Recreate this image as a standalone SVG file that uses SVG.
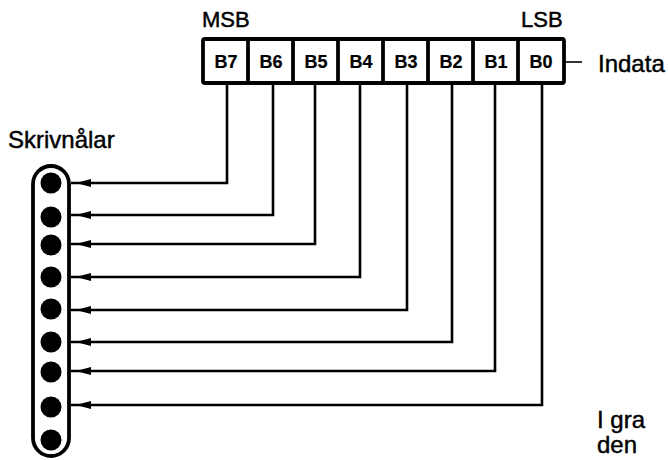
<svg xmlns="http://www.w3.org/2000/svg" width="668" height="460" viewBox="0 0 668 460">
<style>
.lbl{font-family:"Liberation Sans",Arial,sans-serif;fill:#000;stroke:#000;stroke-width:0.45}
.big{font-size:22px}
.cap{font-size:24px}
.cell{font-size:18px;font-weight:bold;text-anchor:middle;stroke-width:0.2}
.wire{fill:none;stroke:#000;stroke-width:2.6;stroke-linejoin:miter}
.frame{fill:#fff;stroke:#000;stroke-width:3.8}
.div{stroke:#000;stroke-width:3.8}
.pin{fill:#000}
</style>
<defs>
<marker id="arr" markerUnits="userSpaceOnUse" markerWidth="30" markerHeight="12" viewBox="-30 -6 30 12" refX="0" refY="0" orient="auto" overflow="visible">
<path d="M-5,0 L-20,-4 L-20,4 Z" fill="#000"/>
</marker>
</defs>
<rect width="668" height="460" fill="#fff"/>
<text class="lbl big" x="202" y="27">MSB</text>
<text class="lbl big" x="521" y="27">LSB</text>
<g id="register">
<rect class="frame" x="203" y="39" width="361" height="44" rx="2"/>
<line class="div" x1="248" y1="39" x2="248" y2="83"/>
<line class="div" x1="293" y1="39" x2="293" y2="83"/>
<line class="div" x1="338" y1="39" x2="338" y2="83"/>
<line class="div" x1="383" y1="39" x2="383" y2="83"/>
<line class="div" x1="428" y1="39" x2="428" y2="83"/>
<line class="div" x1="473" y1="39" x2="473" y2="83"/>
<line class="div" x1="518" y1="39" x2="518" y2="83"/>
<text class="lbl cell" x="226" y="68">B7</text>
<text class="lbl cell" x="271" y="68">B6</text>
<text class="lbl cell" x="316" y="68">B5</text>
<text class="lbl cell" x="361" y="68">B4</text>
<text class="lbl cell" x="406" y="68">B3</text>
<text class="lbl cell" x="451" y="68">B2</text>
<text class="lbl cell" x="496" y="68">B1</text>
<text class="lbl cell" x="541" y="68">B0</text>
</g>
<g id="indata">
<line x1="565" y1="62" x2="582" y2="62" stroke="#000" stroke-width="1.6"/>
<text class="lbl cap" x="598" y="72">Indata</text>
</g>
<g id="pins">
<text class="lbl" x="8" y="148" font-size="24">Skrivnålar</text>
<rect class="frame" x="33" y="166" width="36" height="290" rx="18"/>
<circle class="pin" cx="51" cy="183" r="10.5"/>
<circle class="pin" cx="51" cy="217" r="10.5"/>
<circle class="pin" cx="51" cy="245" r="10.5"/>
<circle class="pin" cx="51" cy="277" r="10.5"/>
<circle class="pin" cx="51" cy="309" r="10.5"/>
<circle class="pin" cx="51" cy="342" r="10.5"/>
<circle class="pin" cx="51" cy="372" r="10.5"/>
<circle class="pin" cx="51" cy="407" r="10.5"/>
<circle class="pin" cx="51" cy="440" r="10.5"/>
</g>
<g id="connectors">
<path class="wire" marker-end="url(#arr)" d="M227,84 V183 H71"/>
<path class="wire" marker-end="url(#arr)" d="M273,84 V215 H71"/>
<path class="wire" marker-end="url(#arr)" d="M315,84 V244 H71"/>
<path class="wire" marker-end="url(#arr)" d="M360,84 V277 H71"/>
<path class="wire" marker-end="url(#arr)" d="M407,84 V310 H71"/>
<path class="wire" marker-end="url(#arr)" d="M452,84 V342 H71"/>
<path class="wire" marker-end="url(#arr)" d="M495,84 V371 H71"/>
<path class="wire" marker-end="url(#arr)" d="M542,84 V405 H71"/>
</g>
<text class="lbl cap" x="597" y="428">I gra</text>
<text class="lbl cap" x="597" y="453">den</text>
</svg>
